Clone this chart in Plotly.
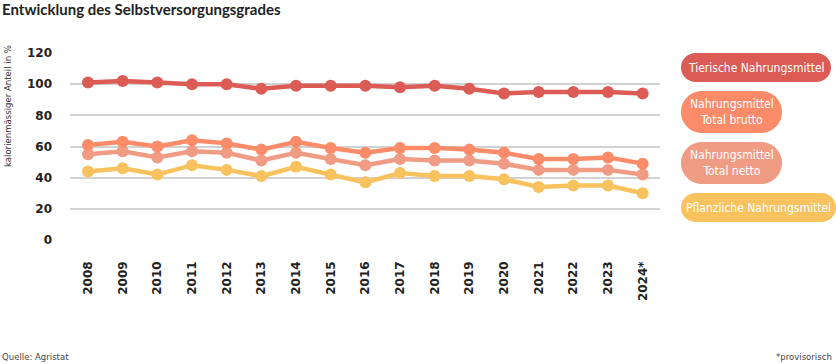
import plotly.graph_objects as go

years = ["2008", "2009", "2010", "2011", "2012", "2013", "2014", "2015", "2016",
         "2017", "2018", "2019", "2020", "2021", "2022", "2023", "2024*"]
tierisch = [101, 102, 101, 100, 100, 97, 99, 99, 99, 98, 99, 97, 94, 95, 95, 95, 94]
brutto = [61, 63, 60, 64, 62, 58, 63, 59, 56, 59, 59, 58, 56, 52, 52, 53, 49]
netto = [55, 57, 53, 57, 56, 51, 56, 52, 48, 52, 51, 51, 49, 45, 45, 45, 42]
pflanzlich = [44, 46, 42, 48, 45, 41, 47, 42, 37, 43, 41, 41, 39, 34, 35, 35, 30]

series_names = ["Tierische Nahrungsmittel", "Nahrungsmittel<br>Total brutto",
                "Nahrungsmittel<br>Total netto", "Pflanzliche Nahrungsmittel"]
series_values = [tierisch, brutto, netto, pflanzlich]
colors = ["#dc5b55", "#fb8b69", "#f09c85", "#f8c25e"]

COND = "DejaVu Sans Condensed, Lato, sans-serif"

W, H = 836, 364
ML, MR, MT, MB = 70, 176, 53, 124
PW, PH = W - ML - MR, H - MT - MB

fig = go.Figure()
for name, vals, col in reversed(list(zip(series_names, series_values, colors))):
    fig.add_trace(go.Scatter(
        x=years, y=vals, mode="lines+markers", name=name,
        line=dict(color=col, width=4.5),
        marker=dict(color=col, size=12),
        cliponaxis=False, showlegend=False, hoverinfo="x+y",
    ))


def px2paper(x, y):
    return (x - ML) / PW, (MT + PH - y) / PH


def pill(w, h):
    r = h / 2.0
    k = 0.5523 * r
    hw, hh = w / 2.0, h / 2.0
    return (f"M{-hw + r},{-hh} L{hw - r},{-hh} "
            f"C{hw - r + k},{-hh} {hw},{-k} {hw},0 "
            f"C{hw},{k} {hw - r + k},{hh} {hw - r},{hh} "
            f"L{-hw + r},{hh} "
            f"C{-hw + r - k},{hh} {-hw},{k} {-hw},0 "
            f"C{-hw},{-k} {-hw + r - k},{-hh} {-hw + r},{-hh} Z")


pills = [  # (x0, x1, y0, y1) in pixels
    (681, 831, 53, 82),
    (681, 782, 91, 133),
    (681, 782, 142, 184),
    (681, 836, 193, 222),
]
shapes = []
annotations = []
for (x0, x1, y0, y1), name, col in zip(pills, series_names, colors):
    cx, cy = (x0 + x1) / 2, (y0 + y1) / 2
    ax, ay = px2paper(cx, cy)
    shapes.append(dict(type="path", xref="paper", yref="paper",
                       xsizemode="pixel", ysizemode="pixel",
                       xanchor=ax, yanchor=ay, path=pill(x1 - x0, y1 - y0),
                       fillcolor=col, line=dict(width=0), layer="above"))
    annotations.append(dict(xref="paper", yref="paper", x=ax, y=ay,
                            text=name, showarrow=False, xanchor="center", yanchor="middle",
                            font=dict(family=COND, size=12, color="white"),
                            align="center"))

ax, ay = px2paper(7, 106)
annotations.append(dict(xref="paper", yref="paper", x=ax, y=ay, text="kalorienmässiger Anteil in %",
                        textangle=-90, showarrow=False, xanchor="center", yanchor="middle",
                        font=dict(family=COND, size=9.5, color="#333")))
ax, ay = px2paper(0, 357)
annotations.append(dict(xref="paper", yref="paper", x=ax, y=ay, text="Quelle: Agristat",
                        showarrow=False, xanchor="left", yanchor="middle",
                        font=dict(family=COND, size=9.5, color="#444")))
ax, ay = px2paper(834, 357)
annotations.append(dict(xref="paper", yref="paper", x=ax, y=ay, text="*provisorisch",
                        showarrow=False, xanchor="right", yanchor="middle",
                        font=dict(family=COND, size=9.5, color="#444")))

fig.update_layout(
    width=W, height=H, autosize=False,
    margin=dict(l=ML, r=MR, t=MT, b=MB, pad=0, autoexpand=False),
    paper_bgcolor="white", plot_bgcolor="white",
    title=dict(text="<b>Entwicklung des Selbstversorgungsgrades</b>",
               xref="container", yref="container", x=2 / W, y=1 - 10 / H,
               xanchor="left", yanchor="middle",
               font=dict(family="Lato, sans-serif", size=15, color="#222")),
    shapes=shapes, annotations=annotations,
    xaxis=dict(type="category", range=[-0.52, 16.5], showgrid=False, zeroline=False,
               showline=False, tickangle=-90, ticks="", ticklabelstandoff=18, automargin=False,
               tickfont=dict(family="DejaVu Sans", size=12, color="#222", weight="bold")),
    yaxis=dict(range=[0, 120], tickvals=[0, 20, 40, 60, 80, 100, 120],
               showgrid=True, gridcolor="#d2d2d2", gridwidth=1.5, zeroline=False,
               showline=False, ticks="", ticklabelstandoff=17, automargin=False,
               tickfont=dict(family="DejaVu Sans", size=12, color="#222", weight="bold")),
)

fig.write_html("out.html", config={"responsive": False, "displayModeBar": False},
               post_script="document.body.style.margin='0';document.body.style.overflow='hidden';")
